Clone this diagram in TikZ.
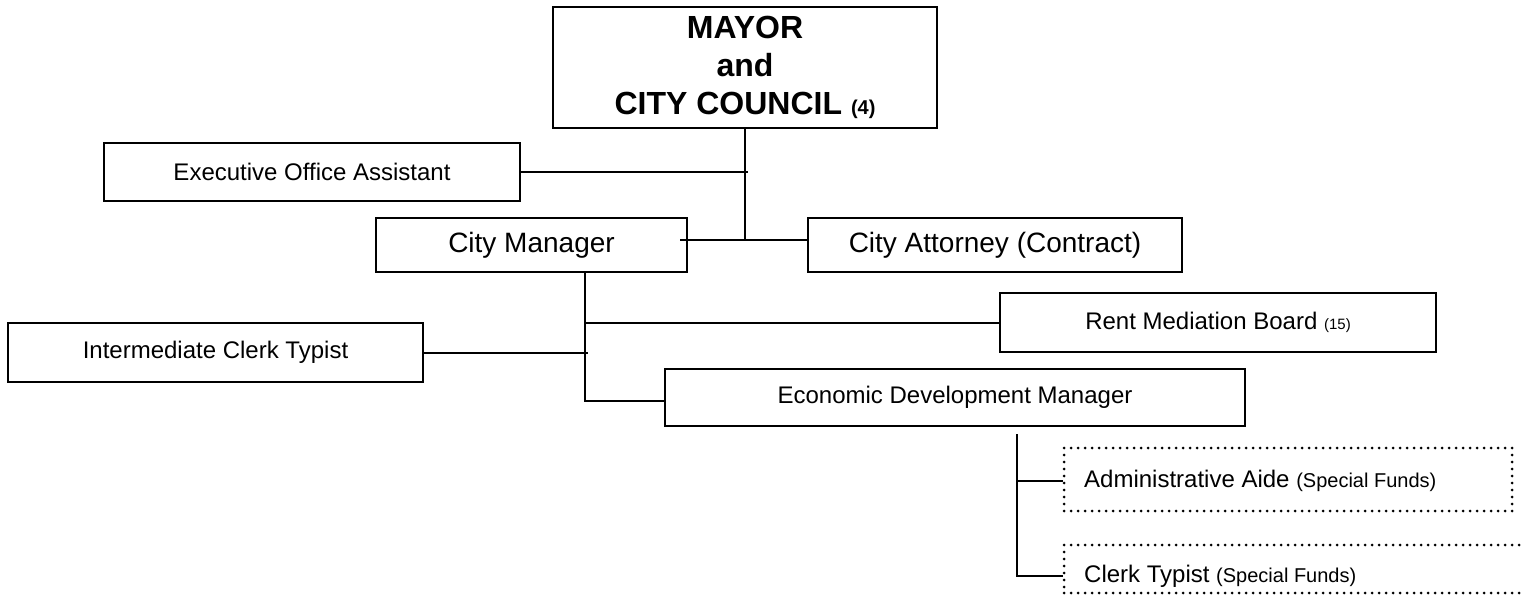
\documentclass[tikz,border=0pt]{standalone}
\usepackage{fontspec}
\setmainfont{Liberation Sans}
\usetikzlibrary{calc,positioning}

\tikzset{
  post/.style={draw, line width=2pt, inner sep=0pt, align=center,
    font=\fontsize{24}{28}\selectfont},
  dotpost/.style={draw, line width=3pt, dash pattern=on 0pt off 7pt,
    line cap=round, inner sep=0pt},
  postlabel/.style={anchor=west, inner sep=0pt, font=\fontsize{24}{28}\selectfont},
  link/.style={line width=2pt},
}
\newcommand{\aside}[1]{{\fontsize{20}{20}\selectfont #1}}

\begin{document}
\begin{tikzpicture}[x=1pt, y=-1pt]
  \useasboundingbox (0,0) rectangle (1522,595);
  \clip (0,0) rectangle (1522,595);
  % boxes
  \node[post, line width=2.4pt, minimum width=384, minimum height=121,
    font=\fontsize{32}{38}\selectfont\bfseries] (mayor) at (745,67.5)
    {MAYOR\\and\\CITY COUNCIL \aside{(4)}};
  \node[post, minimum width=416, minimum height=58] (exec) at (312,172)
    {Executive Office Assistant};
  \node[post, minimum width=311, minimum height=54,
    font=\fontsize{28}{32}\selectfont] (cm) at (531.5,245) {City Manager};
  \node[post, minimum width=374, minimum height=54,
    font=\fontsize{28}{32}\selectfont] (att) at (995,245) {City Attorney (Contract)};
  \node[post, minimum width=436, minimum height=59] (rent) at (1218,322.5)
    {Rent Mediation Board {\fontsize{15}{15}\selectfont(15)}};
  \node[post, minimum width=415, minimum height=59] (ict) at (215.5,352.5)
    {Intermediate Clerk Typist};
  \node[post, minimum width=580, minimum height=57] (edm) at (955,397.5)
    {Economic Development Manager};
  % special funds posts
  \node[dotpost, minimum width=448, minimum height=63] (aide) at (1288,479.5) {};
  \node[postlabel] (aidetext) at (1084,481) {Administrative Aide \aside{(Special Funds)}};
  \node[dotpost, minimum width=480, minimum height=48] (ctyp) at (1304,569) {};
  \node[postlabel] (ctyptext) at (1084,576) {Clerk Typist \aside{(Special Funds)}};
  % lines
  \coordinate (hub) at (745,240);
  \coordinate (cmtap) at (680,240);
  \coordinate (exectap) at (748,173);
  \draw[link] (mayor.south) -- (hub);
  \draw[link] (cmtap) -- (att.west |- hub);
  \draw[link] (exec.east) -- (exec.east -| exectap);
  \coordinate (spine) at (585,401);
  \draw[link] (spine |- cm.south) -- (spine) -- (spine -| edm.west);
  \draw[link] (rent.west) -- (rent.west -| spine);
  \draw[link] (ict.east) -- ($(ict.east -| spine)+(3,0)$);
  \coordinate (sub) at (1017,434);
  \draw[link] (sub) -- (sub |- ctyptext) -- (ctyptext -| ctyp.west);
  \draw[link] (aidetext -| sub) -- (aidetext -| aide.west);
\end{tikzpicture}
\end{document}
